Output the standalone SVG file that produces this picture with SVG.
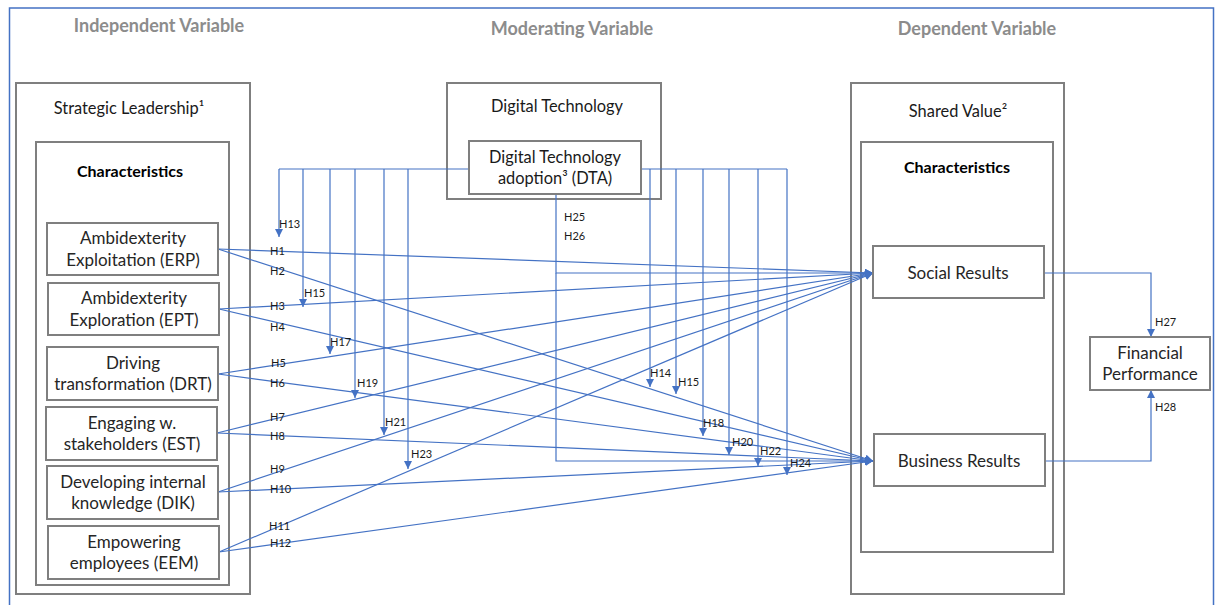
<svg xmlns="http://www.w3.org/2000/svg" width="1215" height="605" viewBox="0 0 1215 605">
  <defs>
    <marker id="arrow" markerUnits="userSpaceOnUse" markerWidth="9" markerHeight="9" refX="8" refY="4" orient="auto">
      <path d="M0,0 L8,4 L0,8 z" fill="#4472C4"/>
    </marker>
    <style>
      .frame { fill: none; stroke: #4472C4; stroke-width: 1.5; }
      .box { fill: #fff; stroke: #7f7f7f; stroke-width: 2; }
      .group { fill: none; stroke: #7f7f7f; stroke-width: 2; }
      .head { font-family: Lato, "Liberation Sans", sans-serif; font-size: 18px; font-weight: bold; fill: #8c8c8c; text-anchor: middle; }
      .title { font-family: Lato, "Liberation Sans", sans-serif; font-size: 16.4px; fill: #1a1a1a; text-anchor: middle; }
      .bold { font-family: Lato, "Liberation Sans", sans-serif; font-size: 16px; font-weight: bold; fill: #000; text-anchor: middle; }
      .node { font-family: Lato, "Liberation Sans", sans-serif; font-size: 17px; fill: #262626; text-anchor: middle; }
      .h { font-family: Lato, "Liberation Sans", sans-serif; font-size: 11px; fill: #1a1a1a; }
      .link { fill: none; stroke: #4472C4; stroke-width: 1.2; }
      .arr { marker-end: url(#arrow); }
    </style>
  </defs>
  <rect width="1215" height="605" fill="#fff"/>
  <rect class="frame" x="9.5" y="8" width="1204" height="620"/>

  <!-- column headings -->
  <text class="head" x="159" y="32">Independent Variable</text>
  <text class="head" x="572" y="35">Moderating Variable</text>
  <text class="head" x="977" y="35">Dependent Variable</text>

  <!-- grouping frames -->
  <g id="strategic-leadership">
    <rect class="group" x="16" y="83" width="234" height="511"/>
    <text class="title" x="129" y="114">Strategic Leadership¹</text>
    <rect class="group" x="36" y="142" width="193" height="443"/>
    <text class="bold" x="130" y="177">Characteristics</text>
  </g>
  <g id="digital-technology">
    <rect class="group" x="447" y="83" width="214" height="116"/>
    <text class="title" x="557" y="112">Digital Technology</text>
  </g>
  <g id="shared-value">
    <rect class="group" x="851" y="83" width="213" height="511"/>
    <text class="title" x="958" y="117">Shared Value²</text>
    <rect class="group" x="861" y="142" width="192" height="410"/>
    <text class="bold" x="957" y="173">Characteristics</text>
  </g>

  <!-- connectors -->
  <g id="connectors">
    <!-- DTA moderation bus -->
    <path class="link" d="M279,169 H469"/>
    <path class="link" d="M641,169 H787"/>
    <path class="link arr" d="M279,169 V237"/>
    <path class="link arr" d="M303,169 V307"/>
    <path class="link arr" d="M330,169 V354"/>
    <path class="link arr" d="M355,169 V398"/>
    <path class="link arr" d="M384,169 V435"/>
    <path class="link arr" d="M408,169 V469"/>
    <path class="link arr" d="M650,169 V387"/>
    <path class="link arr" d="M676,169 V394"/>
    <path class="link arr" d="M703,169 V436"/>
    <path class="link arr" d="M729,169 V455"/>
    <path class="link arr" d="M758,169 V466"/>
    <path class="link arr" d="M787,169 V475"/>
    <!-- DTA direct effects -->
    <path class="link arr" d="M556,194 V273 H873"/>
    <path class="link arr" d="M556,273 V461 H873"/>
    <!-- leadership characteristics to shared value -->
    <path class="link arr" d="M218,249 L873,273"/>
    <path class="link arr" d="M218,249 L873,461"/>
    <path class="link arr" d="M219,309 L873,273"/>
    <path class="link arr" d="M219,309 L873,461"/>
    <path class="link arr" d="M218,374 L873,273"/>
    <path class="link arr" d="M218,374 L873,461"/>
    <path class="link arr" d="M217,433 L873,273"/>
    <path class="link arr" d="M217,433 L873,461"/>
    <path class="link arr" d="M218,492 L873,273"/>
    <path class="link arr" d="M218,492 L873,461"/>
    <path class="link arr" d="M219,552 L873,273"/>
    <path class="link arr" d="M219,552 L873,461"/>
    <!-- shared value to financial performance -->
    <path class="link arr" d="M1044,273 H1151 V337"/>
    <path class="link arr" d="M1045,461 H1151 V390"/>

    <!-- hypothesis labels -->
    <text class="h" x="270" y="255">H1</text>
    <text class="h" x="270" y="275">H2</text>
    <text class="h" x="270" y="310">H3</text>
    <text class="h" x="270" y="331">H4</text>
    <text class="h" x="271" y="367">H5</text>
    <text class="h" x="270" y="387">H6</text>
    <text class="h" x="270" y="421">H7</text>
    <text class="h" x="270" y="440">H8</text>
    <text class="h" x="270" y="473">H9</text>
    <text class="h" x="270" y="493">H10</text>
    <text class="h" x="269" y="530">H11</text>
    <text class="h" x="270" y="547">H12</text>
    <text class="h" x="279" y="228">H13</text>
    <text class="h" x="304" y="297">H15</text>
    <text class="h" x="330" y="346">H17</text>
    <text class="h" x="357" y="387">H19</text>
    <text class="h" x="385" y="426">H21</text>
    <text class="h" x="411" y="458">H23</text>
    <text class="h" x="650" y="377">H14</text>
    <text class="h" x="678" y="386">H15</text>
    <text class="h" x="703" y="427">H18</text>
    <text class="h" x="732" y="446">H20</text>
    <text class="h" x="760" y="455">H22</text>
    <text class="h" x="790" y="467">H24</text>
    <text class="h" x="564" y="221">H25</text>
    <text class="h" x="564" y="240">H26</text>
    <text class="h" x="1155" y="326">H27</text>
    <text class="h" x="1155" y="411">H28</text>
  </g>

  <!-- nodes -->
  <g id="dta">
    <rect class="box" x="469" y="141" width="172" height="53"/>
    <text class="title" x="555" y="163">Digital Technology</text>
    <text class="title" x="555" y="184">adoption³ (DTA)</text>
  </g>
  <g id="erp">
    <rect class="box" x="47" y="223" width="171" height="52"/>
    <text class="node" x="133" y="244">Ambidexterity</text>
    <text class="node" x="133" y="266">Exploitation (ERP)</text>
  </g>
  <g id="ept">
    <rect class="box" x="48" y="283" width="171" height="52"/>
    <text class="node" x="134" y="304">Ambidexterity</text>
    <text class="node" x="134" y="326">Exploration (EPT)</text>
  </g>
  <g id="drt">
    <rect class="box" x="47" y="347" width="171" height="53"/>
    <text class="node" x="133" y="369">Driving</text>
    <text class="node" x="133" y="390">transformation (DRT)</text>
  </g>
  <g id="est">
    <rect class="box" x="46" y="407" width="171" height="53"/>
    <text class="node" x="132" y="429">Engaging w.</text>
    <text class="node" x="132" y="450">stakeholders (EST)</text>
  </g>
  <g id="dik">
    <rect class="box" x="47" y="466" width="171" height="53"/>
    <text class="node" x="133" y="488">Developing internal</text>
    <text class="node" x="133" y="509">knowledge (DIK)</text>
  </g>
  <g id="eem">
    <rect class="box" x="48" y="526" width="171" height="53"/>
    <text class="node" x="134" y="548">Empowering</text>
    <text class="node" x="134" y="569">employees (EEM)</text>
  </g>
  <g id="social-results">
    <rect class="box" x="873" y="246" width="171" height="52"/>
    <text class="node" x="958" y="279">Social Results</text>
  </g>
  <g id="business-results">
    <rect class="box" x="874" y="434" width="171" height="52"/>
    <text class="node" x="959" y="467">Business Results</text>
  </g>
  <g id="financial-performance">
    <rect class="box" x="1090" y="337" width="120" height="53"/>
    <text class="node" x="1150" y="359">Financial</text>
    <text class="node" x="1150" y="380">Performance</text>
  </g>
</svg>
